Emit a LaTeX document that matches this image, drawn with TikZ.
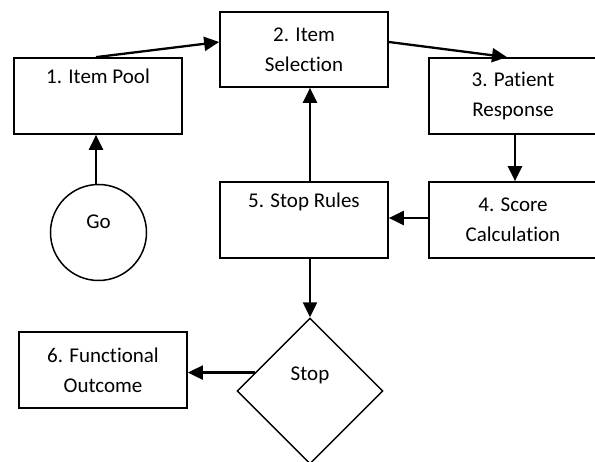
\documentclass[tikz,border=0pt]{standalone}
\usepackage{fontspec}
\setmainfont{Carlito}[Ligatures=NoCommon]
\usetikzlibrary{shapes.geometric,arrows.meta,calc}
\begin{document}
\begin{tikzpicture}[x=1pt,y=-1pt,
  box/.style={draw,line width=1.7pt,rectangle,minimum width=168pt,minimum height=76pt,inner sep=0pt,align=center,font=\fontsize{21}{30}\selectfont},
  flow/.style={line width=2.3pt,-{Triangle[length=15pt,width=14pt]}},
  txt/.style={font=\fontsize{21}{30}\selectfont}]
\useasboundingbox (0,0) rectangle (595,462);
\clip (0,0) rectangle (595,462);
\node[box] (b1) at (98,96) {1. Item Pool\\\strut};
\node[box,minimum height=75pt] (b2) at (304,49.5) {2. Item\\Selection};
\node[box] (b3) at (513,96) {3. Patient\\Response};
\node[box] (b4) at (513,220) {4. Score\\Calculation};
\node[box] (b5) at (304,220) {5. Stop Rules\\\strut};
\node[box] (b6) at (103,370) {6. Functional\\Outcome};
\node[draw,line width=1.5pt,circle,minimum size=96pt,inner sep=0pt,txt] (go) at (98.5,232.5) {\raisebox{4pt}[0pt][0pt]{Go}};
\node[draw,line width=1.4pt,diamond,aspect=1,minimum width=146pt,minimum height=146pt,inner sep=0pt,txt] (stop) at (310,391) {\raisebox{10pt}[0pt][0pt]{Stop}};
\coordinate (se) at ($(stop.west)!0.25!(stop.north)$);
\draw[flow] (go.north -| 96,0) -- (b1.south -| 96,0);
\draw[flow] ([xshift=-2pt]b1.north) -- ([yshift=7.5pt]b2.west);
\draw[flow] ([yshift=7.5pt]b2.east) -- ([xshift=-6pt]b3.north);
\draw[flow] ([xshift=2pt]b3.south) -- ([xshift=2pt]b4.north);
\draw[flow] ([yshift=2pt]b4.west) -- ([yshift=2pt]b5.east);
\draw[flow] ([xshift=6pt]b5.north) -- ([xshift=6pt]b2.south);
\draw[flow] ([xshift=6pt]b5.south) -- (stop.north);
\draw[flow] (se) -- (se -| b6.east);
\end{tikzpicture}
\end{document}
